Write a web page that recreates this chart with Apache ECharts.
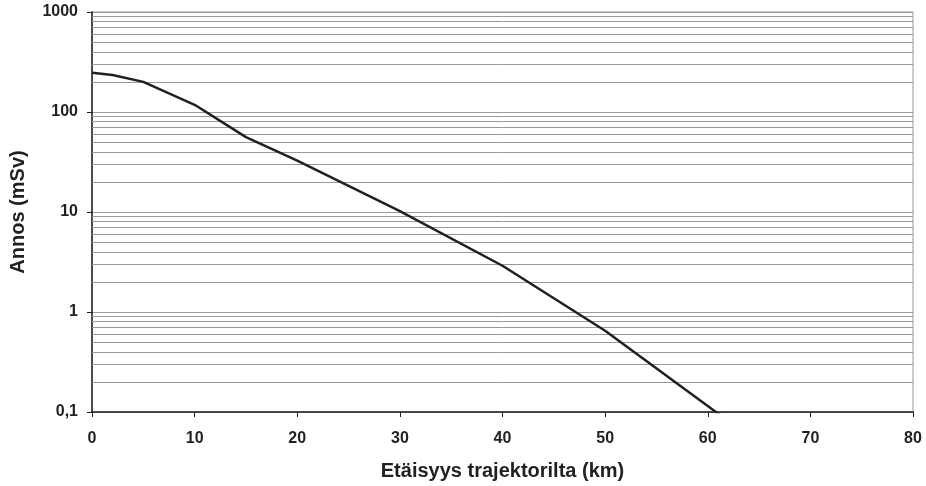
<!DOCTYPE html>
<html>
<head>
<meta charset="utf-8">
<script src="https://cdn.jsdelivr.net/npm/echarts@6/dist/echarts.min.js"></script>
<style>
  html, body { margin: 0; padding: 0; background: #fff; }
  #chart { width: 926px; height: 486px; }
</style>
</head>
<body>
<div id="chart"></div>
<script>
// Dose versus distance from the trajectory
const distanceKm = [0, 2, 5, 10, 15, 20, 30, 40, 50, 60, 70];
const doseMSv = [247, 234, 200, 118, 56, 32.7, 10.2, 2.9, 0.65, 0.115, 0.02];

// Minor gridlines at 2..9 of every decade
const minorGrid = [];
[0.1, 1, 10, 100].forEach(function (base) {
  for (let k = 2; k <= 9; k++) minorGrid.push(+(base * k).toPrecision(3));
});

const font = '"Liberation Sans", Arial, sans-serif';
const ink = '#231f20';
const chart = echarts.init(document.getElementById('chart'));

chart.setOption({
  animation: false,
  grid: { left: 91, right: 13, top: 12, bottom: 73, show: true, borderColor: '#999', borderWidth: 1 },
  xAxis: {
    type: 'value',
    min: 0, max: 80, interval: 10,
    name: 'Etäisyys trajektorilta (km)',
    nameLocation: 'middle',
    nameGap: 49,
    nameTextStyle: { fontFamily: font, fontWeight: 'bold', fontSize: 20, color: ink },
    axisLine: { lineStyle: { color: ink, width: 1.5 } },
    axisTick: { show: true, length: 5, lineStyle: { color: ink } },
    axisLabel: { fontFamily: font, fontWeight: 'bold', fontSize: 16, color: ink, margin: 19 },
    splitLine: { show: false }
  },
  yAxis: {
    type: 'log',
    logBase: 10,
    min: 0.1, max: 1000,
    name: 'Annos (mSv)',
    nameLocation: 'middle',
    nameGap: 64,
    nameTextStyle: { fontFamily: font, fontWeight: 'bold', fontSize: 20, color: ink },
    axisLine: { show: true, lineStyle: { color: ink, width: 1.5 } },
    axisTick: { show: true, length: 5, lineStyle: { color: ink } },
    axisLabel: {
      fontFamily: font, fontWeight: 'bold', fontSize: 16, color: ink, margin: 14,
      formatter: function (v) { return String(v).replace('.', ','); }
    },
    splitLine: { show: true, lineStyle: { color: '#999', width: 1 } }
  },
  series: [{
    type: 'line',
    data: distanceKm.map(function (d, i) { return [d, doseMSv[i]]; }),
    showSymbol: false,
    clip: true,
    lineStyle: { color: ink, width: 2.5 },
    z: 3,
    markLine: {
      silent: true,
      symbol: 'none',
      label: { show: false },
      lineStyle: { color: '#999', width: 1, type: 'solid' },
      data: minorGrid.map(function (v) { return { yAxis: v }; }),
      z: 1
    }
  }]
});
</script>
</body>
</html>
